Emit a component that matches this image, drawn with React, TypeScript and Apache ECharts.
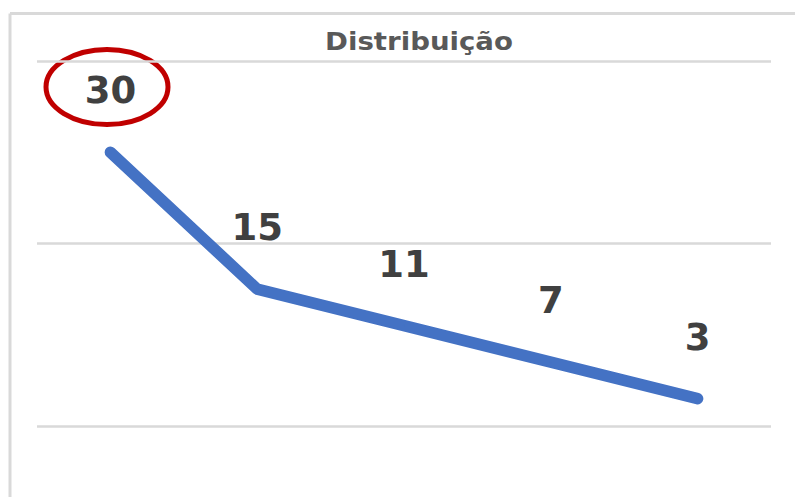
import React, { useEffect, useRef } from "react";
import * as echarts from "echarts";

const categories = ["1", "2", "3", "4", "5"];
const values = [30, 15, 11, 7, 3];
const yTicks = [0, 20, 40];
const titleText = "Distribuição";

export default function App() {
  const ref = useRef<HTMLDivElement>(null);
  useEffect(() => {
    if (!ref.current) return;
    const chart = echarts.init(ref.current, null, { renderer: "svg" });
    chart.setOption({
      animation: false,
      backgroundColor: "#ffffff",
      grid: { left: 37, right: 24, top: 61, bottom: 71 },
      xAxis: {
        type: "category",
        data: categories,
        boundaryGap: true,
        axisLine: { show: false },
        axisTick: { show: false },
        axisLabel: { show: false },
      },
      yAxis: {
        type: "value",
        min: yTicks[0],
        max: yTicks[yTicks.length - 1],
        interval: yTicks[1] - yTicks[0],
        axisLabel: { show: false },
        axisLine: { show: false },
        axisTick: { show: false },
        splitLine: { lineStyle: { color: "#d9d9d9", width: 2.5 } },
      },
      series: [
        {
          type: "line",
          data: values,
          symbol: "circle",
          symbolSize: 2,
          showSymbol: true,
          itemStyle: { color: "#4472C4", borderWidth: 0 },
          lineStyle: { color: "#4472C4", width: 11.5, cap: "round", join: "round" },
          label: {
            show: true,
            position: "top",
            distance: 42,
            color: "#404040",
            fontSize: 37,
            fontWeight: "bold",
            fontFamily: "DejaVu Sans",
          },
        },
      ],
      graphic: [
        {
          type: "line",
          shape: { x1: 10, y1: 13.5, x2: 10, y2: 497 },
          style: { stroke: "#d9d9d9", lineWidth: 3 },
        },
        {
          type: "line",
          shape: { x1: 10, y1: 13.5, x2: 795, y2: 13.5 },
          style: { stroke: "#d9d9d9", lineWidth: 3 },
        },
        {
          type: "text",
          x: 419,
          y: 42,
          scaleX: 1.15,
          style: {
            text: titleText,
            fill: "#595959",
            font: "bold 24px 'DejaVu Sans'",
            align: "center",
            verticalAlign: "middle",
          },
        },
        {
          type: "ellipse",
          shape: { cx: 107, cy: 87, rx: 61, ry: 37.5 },
          style: { fill: "none", stroke: "#C00000", lineWidth: 5 },
        },
      ],
    });
    return () => chart.dispose();
  }, []);
  return (
    <div
      ref={ref}
      style={{ position: "fixed", left: 0, top: 0, width: 795, height: 497 }}
    />
  );
}
